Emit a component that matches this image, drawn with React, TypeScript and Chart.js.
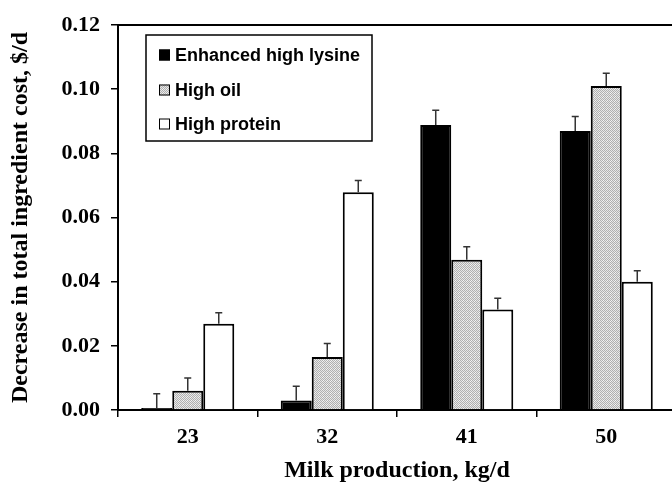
import React, { useEffect, useRef } from "react";
import { Chart, registerables } from "chart.js";

Chart.register(...registerables);

const categories = ["23", "32", "41", "50"];
const seriesNames = ["Enhanced high lysine", "High oil", "High protein"];
const lysine = [0.0006, 0.003, 0.0888, 0.087];
const oil = [0.006, 0.0165, 0.0468, 0.101];
const protein = [0.0269, 0.0679, 0.0313, 0.04];
const lysineErr = [0.0045, 0.0044, 0.0046, 0.0045];
const oilErr = [0.004, 0.0042, 0.0041, 0.004];
const proteinErr = [0.0034, 0.0036, 0.0035, 0.0034];
const yTickValues = [0, 0.02, 0.04, 0.06, 0.08, 0.1, 0.12];

const SERIF = "'Liberation Serif', 'Times New Roman', serif";
const SANS = "'Liberation Sans', Arial, sans-serif";

function makeHatch(): CanvasPattern | string {
  const c = document.createElement("canvas");
  c.width = 4;
  c.height = 4;
  const g = c.getContext("2d");
  if (!g) return "#d0d0d0";
  g.fillStyle = "#e6e6e6";
  g.fillRect(0, 0, 4, 4);
  g.fillStyle = "#b0b0b0";
  for (let y = 0; y < 4; y++) {
    for (let x = 0; x < 4; x++) {
      if ((x + y) % 2 === 0) g.fillRect(x, y, 1, 1);
    }
  }
  g.fillStyle = "#f4f4f4";
  g.fillRect(3, 0, 1, 1);
  g.fillRect(2, 1, 1, 1);
  const p = g.createPattern(c, "repeat");
  return p || "#d0d0d0";
}

export default function App() {
  const ref = useRef<HTMLCanvasElement | null>(null);

  useEffect(() => {
    const canvas = ref.current;
    if (!canvas) return;
    const hatch = makeHatch();
    const errors = [lysineErr, oilErr, proteinErr];
    const fills: any[] = ["#000000", hatch, "#ffffff"];

    const errorBars = {
      id: "errorBars",
      afterDatasetsDraw(chart: any) {
        const ctx = chart.ctx;
        const yScale = chart.scales.y;
        ctx.save();
        ctx.strokeStyle = "#333333";
        ctx.lineWidth = 1.5;
        chart.data.datasets.forEach((ds: any, i: number) => {
          const meta = chart.getDatasetMeta(i);
          meta.data.forEach((el: any, j: number) => {
            const v = ds.data[j];
            const top = yScale.getPixelForValue(v + errors[i][j]);
            ctx.beginPath();
            ctx.moveTo(el.x, el.y);
            ctx.lineTo(el.x, top);
            ctx.moveTo(el.x - 3.5, top);
            ctx.lineTo(el.x + 3.5, top);
            ctx.stroke();
          });
        });
        ctx.restore();
      },
    };

    const frame = {
      id: "frame",
      afterDraw(chart: any) {
        const ctx = chart.ctx;
        const a = chart.chartArea;
        ctx.save();
        ctx.strokeStyle = "#000";
        ctx.lineWidth = 2;
        ctx.beginPath();
        ctx.moveTo(a.left, a.top);
        ctx.lineTo(a.right, a.top);
        ctx.stroke();

        // legend box
        const lx = 146, ly = 35, lw = 226, lh = 106;
        ctx.fillStyle = "#fff";
        ctx.fillRect(lx, ly, lw, lh);
        ctx.lineWidth = 1.5;
        ctx.strokeRect(lx, ly, lw, lh);
        const rows = [55, 90, 124];
        ctx.font = `bold 18px ${SANS}`;
        ctx.textBaseline = "middle";
        ctx.textAlign = "left";
        chart.data.datasets.forEach((ds: any, i: number) => {
          const cy = rows[i];
          ctx.fillStyle = fills[i];
          ctx.fillRect(159, cy - 5.5, 11, 11);
          ctx.lineWidth = 1;
          ctx.strokeStyle = "#000";
          ctx.strokeRect(159.5, cy - 5, 10, 10);
          ctx.fillStyle = "#000";
          ctx.fillText(ds.label, 175, cy + 1);
        });
        ctx.restore();
      },
    };

    const chart = new Chart(canvas, {
      type: "bar",
      data: {
        labels: categories,
        datasets: [
          { label: seriesNames[0], data: lysine, backgroundColor: fills[0], borderColor: "#000", borderWidth: 2 },
          { label: seriesNames[1], data: oil, backgroundColor: fills[1], borderColor: "#000", borderWidth: 2 },
          { label: seriesNames[2], data: protein, backgroundColor: fills[2], borderColor: "#000", borderWidth: 2 },
        ],
      },
      options: {
        responsive: false,
        animation: false,
        devicePixelRatio: 1,
        layout: { padding: { top: 25, right: 14, left: 0, bottom: 0 } },
        datasets: { bar: { categoryPercentage: 0.667, barPercentage: 1 } },
        plugins: {
          legend: { display: false },
          tooltip: { enabled: false },
        },
        scales: {
          x: {
            afterFit(scale: any) {
              scale.height = 75;
            },
            grid: {
              display: true,
              drawOnChartArea: false,
              drawTicks: true,
              tickLength: 7,
              color: "#000",
              lineWidth: 1.5,
              offset: true,
            },
            border: { display: true, color: "#000", width: 2 },
            ticks: {
              color: "#000",
              font: { family: SERIF, size: 22, weight: "bold" },
              padding: 7,
            },
            title: {
              display: true,
              text: "Milk production, kg/d",
              color: "#000",
              font: { family: SERIF, size: 24, weight: "bold" },
              padding: { top: 4, bottom: 0 },
            },
          },
          y: {
            min: 0,
            max: 0.12,
            afterFit(scale: any) {
              scale.width = 118;
            },
            afterBuildTicks(scale: any) {
              scale.ticks = yTickValues.map((v) => ({ value: v }));
            },
            grid: {
              display: true,
              drawOnChartArea: false,
              drawTicks: true,
              tickLength: 7,
              color: "#000",
              lineWidth: 1.5,
            },
            border: { display: true, color: "#000", width: 2 },
            ticks: {
              color: "#000",
              font: { family: SERIF, size: 22, weight: "bold" },
              padding: 11,
              callback: (v: any) => Number(v).toFixed(2),
            },
            title: {
              display: true,
              text: "Decrease in total ingredient cost, $/d",
              color: "#000",
              font: { family: SERIF, size: 24, weight: "bold" },
              padding: { top: 6, bottom: 0 },
            },
          },
        },
      },
      plugins: [errorBars, frame],
    });
    return () => chart.destroy();
  }, []);

  return (
    <div style={{ position: "fixed", left: 0, top: 0, width: 672, height: 485, overflow: "hidden", background: "#fff" }}>
      <canvas ref={ref} width={690} height={485} style={{ display: "block" }} />
    </div>
  );
}
